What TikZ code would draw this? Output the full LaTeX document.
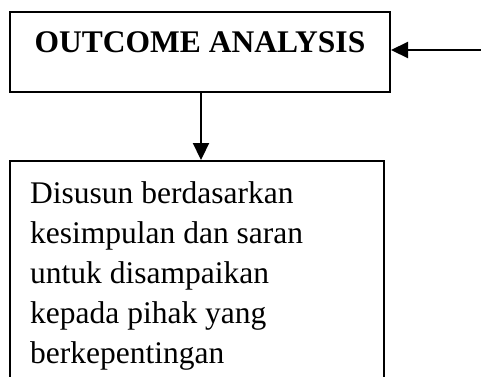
\documentclass[tikz,border=0pt]{standalone}
\usepackage{fontspec}
\setmainfont{Liberation Serif}
\usetikzlibrary{arrows.meta}
\tikzset{
  boxshape/.style={draw=black, line width=2pt, rectangle, inner sep=0pt, anchor=north west},
  conn/.style={line width=2.2pt, -{Triangle[length=17pt,width=16pt]}},
  toplabel/.style={font=\fontsize{31.5}{38}\selectfont\bfseries, inner sep=0pt, anchor=base},
  bodytext/.style={font=\fontsize{31.5}{40}\selectfont, align=left, inner sep=0pt, anchor=north west}
}
\begin{document}
\begin{tikzpicture}
\useasboundingbox[fill=white] (0pt,0pt) rectangle (481pt,-376pt);
\node[boxshape, minimum width=380pt, minimum height=80pt] (top) at (9pt,-11pt) {};
\node[toplabel] (toptext) at (200pt,-52pt) {OUTCOME ANALYSIS};
\node[boxshape, minimum width=373.5pt, minimum height=260pt] (bot) at (9pt,-160pt) {};
\node[bodytext] (bottext) at (30pt,-181pt) {Disusun berdasarkan\\kesimpulan dan saran\\untuk disampaikan\\kepada pihak yang\\berkepentingan};
\coordinate (src) at (490pt,-50pt);
\draw[conn] (src) -- (top.east |- src);
\draw[conn] ([xshift=1pt]top.south) -- ([xshift=1pt]top.south |- bot.north);
\end{tikzpicture}
\end{document}
